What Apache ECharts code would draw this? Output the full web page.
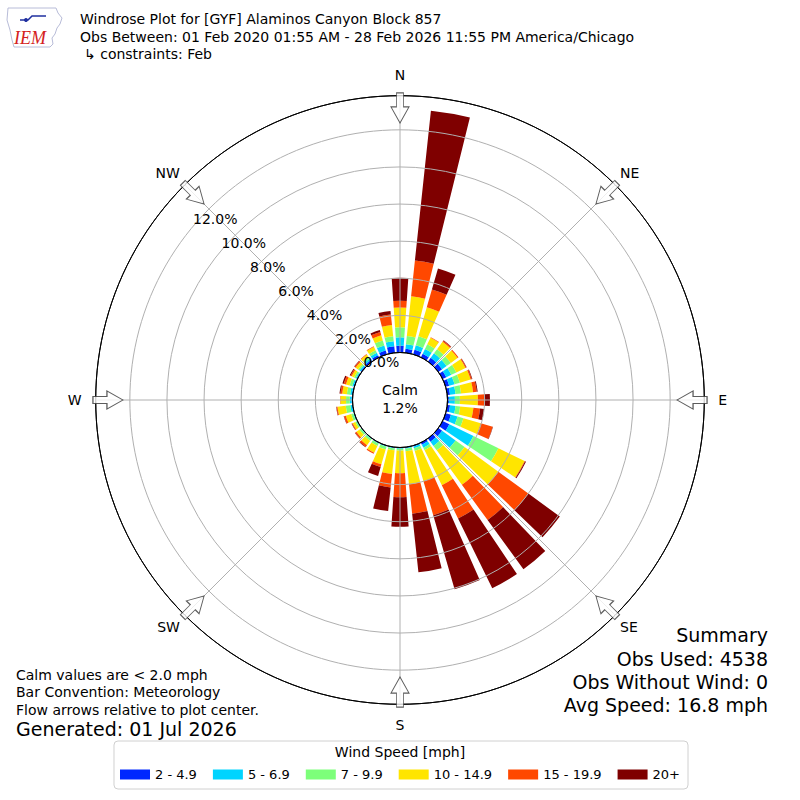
<!DOCTYPE html>
<html><head><meta charset="utf-8">
<script src="https://cdn.jsdelivr.net/npm/echarts@6/dist/echarts.min.js"></script>
<style>html,body{margin:0;padding:0;background:#fff}#c{width:800px;height:800px}</style>
</head><body><div id="c"></div>
<script>
// ---- data ----
const directions = ['0','10','20','30','40','50','60','70','80','90','100','110','120','130','140','150','160','170','180','190','200','210','220','230','240','250','260','270','280','290','300','310','320','330','340','350'];
const speedBins = ['2 - 4.9','5 - 6.9','7 - 9.9','10 - 14.9','15 - 19.9','20+'];
const binColors = ['#0028ff','#00d4ff','#7dff7a','#ffe500','#ff4800','#7f0000'];
const s2to5   = [0.37,0.22,0.26,0.22,0.25,0.25,0.22,0.20,0.15,0.08,0.15,0.30,0.40,0.25,0.22,0.12,0.05,0.03,0.03,0.03,0.03,0.03,0.02,0.02,0.02,0.02,0.03,0.05,0.04,0.04,0.04,0.06,0.10,0.13,0.21,0.36];
const s5to7   = [0.45,0.24,0.25,0.28,0.30,0.30,0.30,0.30,0.30,0.32,0.30,0.37,1.45,0.90,0.28,0.18,0.10,0.05,0.04,0.04,0.03,0.03,0.03,0.03,0.03,0.04,0.10,0.10,0.10,0.08,0.06,0.08,0.10,0.15,0.29,0.27];
const s7to10  = [0.54,0.45,0.51,0.28,0.28,0.28,0.30,0.30,0.30,0.27,0.25,0.33,1.50,0.60,0.30,0.15,0.15,0.14,0.10,0.10,0.16,0.14,0.12,0.10,0.08,0.12,0.25,0.20,0.18,0.15,0.10,0.10,0.12,0.15,0.28,0.27];
const s10to15 = [1.07,2.15,1.62,0.40,0.50,0.45,0.55,0.60,0.65,0.97,0.72,0.97,1.57,2.25,2.30,2.11,1.70,1.78,1.22,1.28,0.83,0.40,0.28,0.20,0.15,0.30,0.45,0.30,0.25,0.20,0.14,0.16,0.15,0.20,0.29,0.60];
const s15to20 = [0.36,1.94,1.00,0.03,0.07,0.06,0.05,0.07,0.20,0.38,0.36,0.67,0.03,2.00,2.35,1.99,1.90,1.60,1.29,0.73,0.15,0.07,0.12,0.08,0.05,0.10,0.05,0.02,0.10,0.12,0.07,0.07,0.03,0.04,0.19,0.58];
const s20plus = [1.24,8.12,1.18,0.00,0.03,0.00,0.02,0.03,0.05,0.27,0.22,0.02,0.05,2.10,3.28,4.19,4.15,3.18,1.59,1.28,0.50,0.00,0.03,0.02,0.02,0.02,0.02,0.00,0.05,0.08,0.05,0.03,0.00,0.00,0.10,0.19];
const cardinalLabels = {0:'N',90:'E',180:'S',270:'W'};
const diagonalLabels = {45:'NE',135:'SE',225:'SW',315:'NW'};
const arrowDirs = [0,45,90,135,180,225,270,315];
const arrowRadius = 13.18;
const rMax = 13.84;
const calmText = 'Calm\n1.2%';
const titleLines = ['Windrose Plot for [GYF] Alaminos Canyon Block 857','Obs Between: 01 Feb 2020 01:55 AM - 28 Feb 2026 11:55 PM America/Chicago','\u21b3 constraints: Feb'];
const notes = ['Calm values are < 2.0 mph','Bar Convention: Meteorology','Flow arrows relative to plot center.'];
const generated = 'Generated: 01 Jul 2026';
const summary = ['Summary','Obs Used: 4538','Obs Without Wind: 0','Avg Speed: 16.8 mph'];

const seriesValues = [s2to5,s5to7,s7to10,s10to15,s15to20,s20plus];
const FONT = 'DejaVu Sans';
const chart = echarts.init(document.getElementById('c'), null, {renderer:'svg'});
const polarBox = {center:['50%','50%'], radius:[47.5, 304.3]};

const series = speedBins.map((name,i)=>({
  name, type:'bar', coordinateSystem:'polar', polarIndex:0, stack:'ws',
  barCategoryGap:'22%', data: seriesValues[i], itemStyle:{color:binColors[i]}, z:2
}));
series.push({
  type:'scatter', coordinateSystem:'polar', polarIndex:1, z:10,
  symbol:'path://M5.5,0 L12.5,0 L12.5,14 L18,14 L9,30 L0,14 L5.5,14 Z',
  symbolSize:[18,30],
  itemStyle:{color:'#fff', borderColor:'#333', borderWidth:1},
  data: arrowDirs.map(a=>({value:[arrowRadius,a], symbolRotate:-a})),
  silent:true
});

const gText = (x,y,t,size,extra)=>Object.assign({type:'text', x, y, style:Object.assign({text:t, font:size+'px "'+FONT+'"', fill:'#000', textVerticalAlign:'middle'}, extra||{})});
const hiddenRadius = (i)=>({polarIndex:i, min:0, max:rMax, axisLine:{show:false}, axisTick:{show:false}, axisLabel:{show:false}, splitLine:{show:false}});

chart.setOption({
  animation:false,
  backgroundColor:'#fff',
  polar:[polarBox, polarBox, polarBox, polarBox],
  angleAxis:[
    {polarIndex:0, type:'category', data:directions, startAngle:95, clockwise:true,
     axisLine:{show:false}, axisTick:{show:false}, axisLabel:{show:false}, splitLine:{show:false}},
    {polarIndex:1, type:'value', min:0, max:360, interval:45, startAngle:90, clockwise:true, z:5,
     axisLine:{show:true, lineStyle:{color:'#000', width:1}}, axisTick:{show:false},
     axisLabel:{show:true, margin:14, fontSize:14, fontFamily:FONT, color:'#000',
       formatter:v=>cardinalLabels[v]||''},
     splitLine:{show:true, lineStyle:{color:'#b0b0b0', width:1}}},
    {polarIndex:2, type:'value', min:0, max:360, startAngle:140, clockwise:true,
     axisLine:{show:false}, axisTick:{show:false}, axisLabel:{show:false}, splitLine:{show:false}},
    {polarIndex:3, type:'value', min:0, max:360, interval:45, startAngle:90, clockwise:true, z:5,
     axisLine:{show:false}, axisTick:{show:false}, splitLine:{show:false},
     axisLabel:{show:true, margin:7, fontSize:14, fontFamily:FONT, color:'#000',
       formatter:v=>diagonalLabels[v]||''}}
  ],
  radiusAxis:[
    hiddenRadius(0),
    {polarIndex:1, min:0, max:rMax, interval:2, z:5, axisLine:{show:false}, axisTick:{show:false}, axisLabel:{show:false},
     splitLine:{show:true, lineStyle:{color:['#000','#b0b0b0','#b0b0b0','#b0b0b0','#b0b0b0','#b0b0b0','#b0b0b0','#000'], width:1}}},
    {polarIndex:2, min:0, max:rMax, interval:2, z:6, axisLine:{show:false}, axisTick:{show:false}, splitLine:{show:false},
     axisLabel:{show:true, margin:0, fontSize:14, fontFamily:FONT, color:'#000', align:'left', verticalAlign:'bottom',
       formatter:v=> v>13 ? '' : v.toFixed(1)+'%'}},
    hiddenRadius(3)
  ],
  legend:{
    data:speedBins, left:'center', top:741, orient:'horizontal', icon:'rect', itemWidth:30, itemHeight:10, itemGap:16,
    selectedMode:false, textStyle:{fontSize:13, fontFamily:FONT, color:'#000'},
    borderColor:'#d0d0d0', borderWidth:1, borderRadius:4, padding:[27,8,8,6], backgroundColor:'#fff'
  },
  graphic:[
    {type:'polygon', shape:{points:[[8,8],[56,8],[58,13],[62,18],[60,24],[57,28],[55,34],[52,38],[53,44],[50,47],[14,47],[12,40],[10,30],[7,20]]},
     style:{fill:'none', stroke:'#b8bcd8', lineWidth:1}},
    {type:'polyline', shape:{points:[[20,20],[28,20],[32,16],[46,16]]}, style:{stroke:'#2030a0', lineWidth:1.5, fill:'none'}},
    {type:'circle', shape:{cx:26,cy:20,r:2}, style:{fill:'#2030a0'}},
    {type:'text', x:14, y:38, style:{text:'IEM', font:'italic 18px "Liberation Serif"', fill:'#d42020', textVerticalAlign:'middle'}},
    gText(80,19,titleLines[0],14),
    gText(80,37,titleLines[1],14),
    gText(84,54,titleLines[2],14),
    {type:'text', x:400, y:399, z:20, style:{text:calmText, font:'14px "'+FONT+'"', fill:'#000', textAlign:'center', textVerticalAlign:'middle', lineHeight:18}},
    gText(16,675,notes[0],14),
    gText(16,692,notes[1],14),
    gText(16,710,notes[2],14),
    gText(16,729,generated,19),
    gText(768,635,summary[0],19,{textAlign:'right'}),
    gText(768,659,summary[1],19,{textAlign:'right'}),
    gText(768,682,summary[2],19,{textAlign:'right'}),
    gText(768,705,summary[3],19,{textAlign:'right'}),
    {type:'text', x:400, y:752, z:20, style:{text:'Wind Speed [mph]', font:'14px "'+FONT+'"', fill:'#000', textAlign:'center', textVerticalAlign:'middle'}}
  ],
  series
});
</script></body></html>
